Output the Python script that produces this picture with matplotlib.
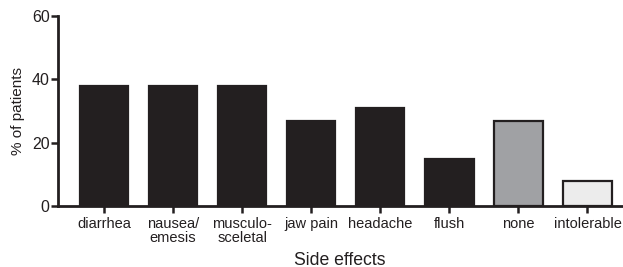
import matplotlib
matplotlib.use("Agg")
import matplotlib.pyplot as plt
import numpy as np

plt.rcParams['font.family'] = ['Liberation Sans', 'DejaVu Sans']

categories = ["diarrhea", "nausea/\nemesis", "musculo-\nsceletal", "jaw pain",
              "headache", "flush", "none", "intolerable"]
values = [38, 38, 38, 27, 31, 15, 27, 8]
fill_colors = ["#231f20"] * 6 + ["#a0a1a4", "#ececec"]

fig = plt.figure(figsize=(6.23, 2.67), dpi=100)
ax = fig.add_axes([58 / 623, 61 / 267, 564 / 623, 190 / 267])

x = np.arange(len(categories))
ax.bar(x, values, width=0.7, color=fill_colors, edgecolor="#231f20",
       linewidth=1.6, zorder=2)

ax.set_xlim(-0.667, 7.5)
ax.set_ylim(0, 60)
ax.set_yticks([0, 20, 40, 60])
ax.set_xticks(x)
ax.set_xticklabels(categories, fontsize=10.5, color="#231f20", linespacing=0.95)
ax.tick_params(axis="y", labelsize=11.5, labelcolor="#231f20", width=1.8,
               length=5, color="#231f20", pad=1)
ax.tick_params(axis="x", width=1.8, length=5, color="#231f20", pad=3)

for side in ["top", "right"]:
    ax.spines[side].set_visible(False)
for side in ["left", "bottom"]:
    ax.spines[side].set_linewidth(2.0)
    ax.spines[side].set_color("#231f20")

ax.set_ylabel("% of patients", fontsize=11, color="#231f20", labelpad=5)
ax.set_xlabel("Side effects", fontsize=12.7, color="#231f20", labelpad=5)

fig.savefig("out.png", dpi=100)
